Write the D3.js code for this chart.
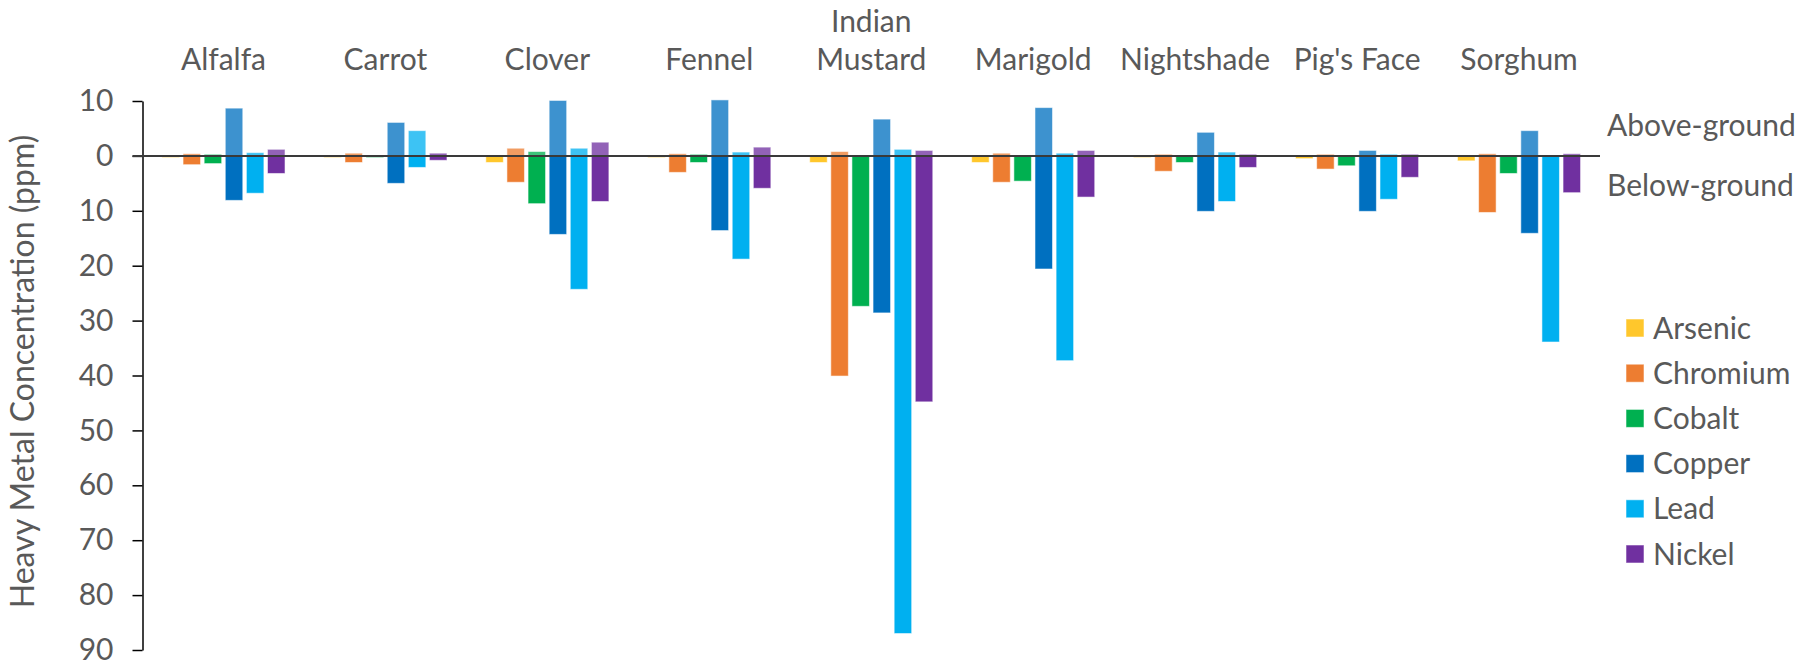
<!DOCTYPE html>
<html>
<head>
<meta charset="utf-8">
<script src="https://cdn.jsdelivr.net/npm/d3@7"></script>
<style>
  html, body { margin: 0; padding: 0; background: #fff; }
  svg { display: block; }
  text { font-family: Lato, "Noto Sans", sans-serif; fill: #595959; }
</style>
</head>
<body>
<svg id="chart" width="1806" height="667"></svg>
<script>
// Plants sampled and metals measured
const plants = ["Alfalfa", "Carrot", "Clover", "Fennel", "Indian Mustard",
                "Marigold", "Nightshade", "Pig's Face", "Sorghum"];
const metals = ["Arsenic", "Chromium", "Cobalt", "Copper", "Lead", "Nickel"];

// Above-ground tissue concentrations (ppm), one value per plant
const arsenicAbove  = [0, 0, 0, 0, 0, 0, 0, 0, 0];
const chromiumAbove = [0.4, 0.5, 1.4, 0.4, 0.8, 0.5, 0.3, 0.3, 0.4];
const cobaltAbove   = [0.3, 0.1, 0.8, 0.3, 0, 0, 0, 0, 0];
const copperAbove   = [8.7, 6.1, 10.1, 10.2, 6.7, 8.8, 4.3, 1.0, 4.6];
const leadAbove     = [0.6, 4.6, 1.4, 0.7, 1.2, 0.5, 0.7, 0.3, 0];
const nickelAbove   = [1.2, 0.5, 2.5, 1.6, 1.0, 1.0, 0.3, 0.3, 0.4];

// Below-ground (root) concentrations (ppm)
const arsenicBelow  = [0.3, 0.3, 1.2, 0.3, 1.2, 1.2, 0.3, 0.5, 0.9];
const chromiumBelow = [1.6, 1.2, 4.8, 3.0, 40.1, 4.8, 2.8, 2.4, 10.3];
const cobaltBelow   = [1.4, 0.3, 8.7, 1.2, 27.4, 4.6, 1.2, 1.8, 3.2];
const copperBelow   = [8.1, 5.0, 14.3, 13.6, 28.6, 20.6, 10.1, 10.1, 14.1];
const leadBelow     = [6.8, 2.1, 24.3, 18.8, 87.0, 37.3, 8.3, 7.9, 33.9];
const nickelBelow   = [3.2, 0.8, 8.3, 5.9, 44.8, 7.5, 2.1, 3.9, 6.7];

// Axis ticks: signed positions, labelled with magnitudes
const tickValues = [-10, 0, 10, 20, 30, 40, 50, 60, 70, 80, 90];

const metalColors = ["#FFC72C", "#ED7D31", "#00B050", "#0070C0", "#00B0F0", "#7030A0"];

const aboveSeries = [arsenicAbove, chromiumAbove, cobaltAbove, copperAbove, leadAbove, nickelAbove];
const belowSeries = [arsenicBelow, chromiumBelow, cobaltBelow, copperBelow, leadBelow, nickelBelow];

// Flatten into bar records
const bars = [];
plants.forEach((p, i) => {
  metals.forEach((m, j) => {
    bars.push({ plant: p, metal: m, part: "above", value: aboveSeries[j][i], color: metalColors[j] });
    bars.push({ plant: p, metal: m, part: "below", value: belowSeries[j][i], color: metalColors[j] });
  });
});

const svg = d3.select("#chart");
const fontSize = 30;

const plot = { left: 142.5, right: 1600, top: 101, bottom: 650 };

const x0 = d3.scaleBand().domain(plants)
  .range([plot.left, plot.right]).paddingInner(0.24).paddingOuter(0.12);
const x1 = d3.scaleBand().domain(metals)
  .range([0, x0.bandwidth()]).paddingInner(0.17);
// Negative = above ground (drawn upward), positive = below ground
const y = d3.scaleLinear().domain([-10, 90]).range([plot.top, plot.bottom]);

const tint = (c, k) => d3.interpolateRgb(c, "#ffffff")(k);

// Bars
svg.append("g").selectAll("rect")
  .data(bars.filter(d => d.value > 0))
  .join("rect")
  .attr("x", d => x0(d.plant) + x1(d.metal))
  .attr("width", x1.bandwidth())
  .attr("y", d => d.part === "above" ? y(-d.value) : y(0))
  .attr("height", d => d.part === "above" ? y(0) - y(-d.value) : y(d.value) - y(0))
  .attr("fill", d => d.part === "above" ? tint(d.color, 0.24) : d.color)
  .attr("stroke", "#ffffff")
  .attr("stroke-opacity", 0.55)
  .attr("stroke-width", 1);

// Y axis
const yAxis = d3.axisLeft(y)
  .tickValues(tickValues)
  .tickFormat(d => Math.abs(d))
  .tickSize(10)
  .tickSizeOuter(0)
  .tickPadding(19);

const gy = svg.append("g").attr("transform", `translate(${plot.left},0)`).call(yAxis);
gy.select(".domain").attr("stroke", "#000").attr("stroke-width", 1.5);
gy.selectAll(".tick line").attr("stroke", "#000").attr("stroke-width", 1.5);
gy.selectAll(".tick text")
  .attr("font-size", fontSize)
  .attr("font-family", "Lato, 'Noto Sans', sans-serif")
  .attr("fill", "#595959");

// Ground line at zero
svg.append("line")
  .attr("x1", plot.left - 10).attr("x2", plot.right)
  .attr("y1", y(0)).attr("y2", y(0))
  .attr("stroke", "#3a3a3a").attr("stroke-width", 2);

// Plant names above each group
const labels = svg.append("g").selectAll("text")
  .data(plants)
  .join("text")
  .attr("x", d => x0(d) + x0.bandwidth() / 2)
  .attr("y", 70)
  .attr("text-anchor", "middle")
  .attr("font-size", fontSize);
labels.each(function(d) {
  const words = d === "Indian Mustard" ? ["Indian", "Mustard"] : [d];
  const t = d3.select(this);
  words.forEach((w, k) => {
    t.append("tspan")
      .attr("x", x0(d) + x0.bandwidth() / 2)
      .attr("dy", k === 0 ? -(words.length - 1) * 38 : 38)
      .text(w);
  });
});

// Y axis title
svg.append("text")
  .attr("transform", `translate(34,${(plot.top + plot.bottom) / 2 - 4}) rotate(-90)`)
  .attr("text-anchor", "middle")
  .attr("font-size", 32)
  .text("Heavy Metal Concentration (ppm)");

// Ground side annotations
svg.append("text").attr("x", 1607).attr("y", 136).attr("font-size", fontSize).text("Above-ground");
svg.append("text").attr("x", 1607).attr("y", 196).attr("font-size", fontSize).text("Below-ground");

// Legend
const legend = svg.append("g").attr("transform", "translate(1626,328)");
const rows = legend.selectAll("g").data(metals).join("g")
  .attr("transform", (d, i) => `translate(0,${i * 45.2})`);
rows.append("rect")
  .attr("x", 0).attr("y", -9).attr("width", 18).attr("height", 18)
  .attr("fill", (d, i) => metalColors[i])
  .attr("stroke", "#fff").attr("stroke-opacity", 0.55);
rows.append("text")
  .attr("x", 27).attr("y", 0)
  .attr("dy", "0.35em")
  .attr("font-size", fontSize)
  .text(d => d);
</script>
</body>
</html>
